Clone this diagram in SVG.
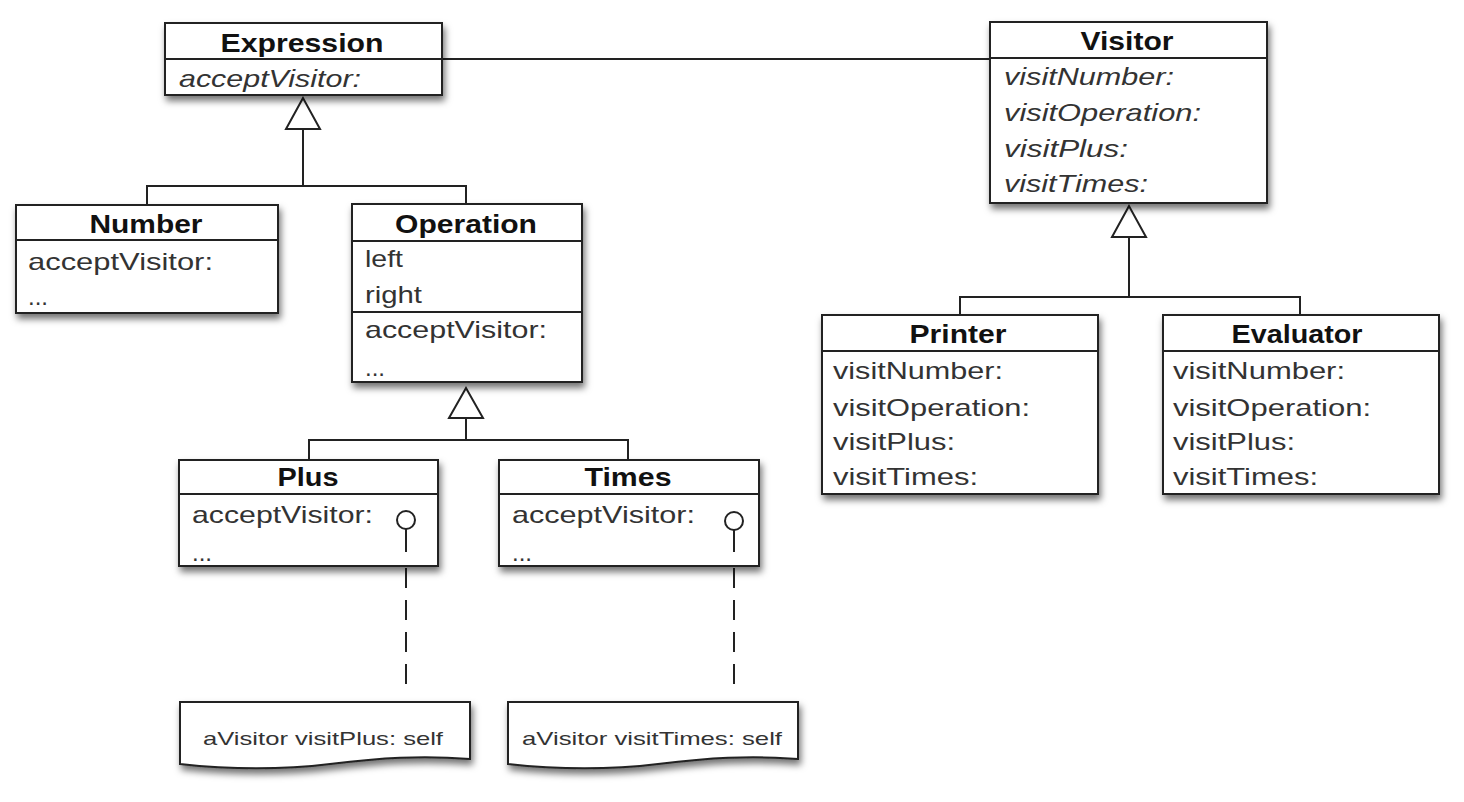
<svg xmlns="http://www.w3.org/2000/svg" width="1464" height="802" viewBox="0 0 1464 802">
<defs>
<filter id="sh" x="-10%" y="-10%" width="125%" height="135%">
<feDropShadow dx="2" dy="5" stdDeviation="3.5" flood-color="#000" flood-opacity="0.55"/>
</filter>
<style>
.box{fill:#fff;stroke:#222;stroke-width:2;filter:url(#sh)}
.sep{stroke:#222;stroke-width:2}
.ln{fill:none;stroke:#222;stroke-width:2}
.tri{fill:#fff;stroke:#222;stroke-width:2}
.dash{fill:none;stroke:#222;stroke-width:2;stroke-dasharray:20 12}
.t{font-family:"Liberation Sans",Arial,sans-serif;font-size:24px;fill:#333}
.i{font-style:italic}
.b{font-family:"Liberation Sans",Arial,sans-serif;font-size:25px;font-weight:bold;fill:#111;text-anchor:middle}
.n{font-family:"Liberation Sans",Arial,sans-serif;font-size:19px;fill:#333}
</style>
</defs>
<g id="connectors">
<line class="ln" x1="442" y1="59" x2="990" y2="59"/>
<polygon class="tri" points="303,98 286,129 320,129"/>
<path class="ln" d="M303,129 V186 M147,205 V186 H466 V204"/>
<polygon class="tri" points="466,388 449,418 483,418"/>
<path class="ln" d="M466,418 V440 M309,460 V440 H628 V460"/>
<polygon class="tri" points="1129,206 1112,237 1146,237"/>
<path class="ln" d="M1129,237 V297 M960,315 V297 H1300 V315"/>
<path class="dash" d="M406,568 V690"/>
<path class="dash" d="M734,568 V690"/>
</g>
<g id="Expression">
<rect class="box" x="165" y="23" width="277" height="72"/>
<line class="sep" x1="165" y1="59" x2="442" y2="59"/>
<text class="b" x="302" y="52" textLength="163" lengthAdjust="spacingAndGlyphs">Expression</text>
<text class="t i" x="179" y="87" textLength="182" lengthAdjust="spacingAndGlyphs">acceptVisitor:</text>
</g>
<g id="Visitor">
<rect class="box" x="990" y="22" width="277" height="181"/>
<line class="sep" x1="990" y1="58" x2="1267" y2="58"/>
<text class="b" x="1127" y="50" textLength="93" lengthAdjust="spacingAndGlyphs">Visitor</text>
<text class="t i" x="1004" y="85" textLength="170" lengthAdjust="spacingAndGlyphs">visitNumber:</text>
<text class="t i" x="1004" y="121" textLength="197" lengthAdjust="spacingAndGlyphs">visitOperation:</text>
<text class="t i" x="1004" y="157" textLength="124" lengthAdjust="spacingAndGlyphs">visitPlus:</text>
<text class="t i" x="1004" y="192" textLength="144" lengthAdjust="spacingAndGlyphs">visitTimes:</text>
</g>
<g id="Number">
<rect class="box" x="16" y="205" width="262" height="108"/>
<line class="sep" x1="16" y1="240" x2="278" y2="240"/>
<text class="b" x="146" y="233" textLength="113" lengthAdjust="spacingAndGlyphs">Number</text>
<text class="t" x="28" y="270" textLength="185" lengthAdjust="spacingAndGlyphs">acceptVisitor:</text>
<text class="t" x="28" y="305">...</text>
</g>
<g id="Operation">
<rect class="box" x="352" y="204" width="230" height="178"/>
<line class="sep" x1="352" y1="241" x2="582" y2="241"/>
<line class="sep" x1="352" y1="312" x2="582" y2="312"/>
<text class="b" x="466" y="233" textLength="142" lengthAdjust="spacingAndGlyphs">Operation</text>
<text class="t" x="365" y="267" textLength="38" lengthAdjust="spacingAndGlyphs">left</text>
<text class="t" x="365" y="303" textLength="57" lengthAdjust="spacingAndGlyphs">right</text>
<text class="t" x="365" y="338" textLength="182" lengthAdjust="spacingAndGlyphs">acceptVisitor:</text>
<text class="t" x="365" y="376">...</text>
</g>
<g id="Plus">
<rect class="box" x="179" y="460" width="259" height="106"/>
<line class="sep" x1="179" y1="494" x2="438" y2="494"/>
<text class="b" x="308" y="486" textLength="61" lengthAdjust="spacingAndGlyphs">Plus</text>
<text class="t" x="192" y="523" textLength="181" lengthAdjust="spacingAndGlyphs">acceptVisitor:</text>
<text class="t" x="192" y="561">...</text>
<circle cx="406" cy="520" r="9" fill="#fff" stroke="#222" stroke-width="2"/>
<line class="sep" x1="406" y1="529" x2="406" y2="552"/>
</g>
<g id="Times">
<rect class="box" x="499" y="460" width="260" height="106"/>
<line class="sep" x1="499" y1="494" x2="759" y2="494"/>
<text class="b" x="628" y="486" textLength="87" lengthAdjust="spacingAndGlyphs">Times</text>
<text class="t" x="512" y="523" textLength="183" lengthAdjust="spacingAndGlyphs">acceptVisitor:</text>
<text class="t" x="512" y="561">...</text>
<circle cx="734" cy="521" r="9" fill="#fff" stroke="#222" stroke-width="2"/>
<line class="sep" x1="734" y1="530" x2="734" y2="552"/>
</g>
<g id="NotePlus">
<path class="box" d="M180,702 H470 V759 C420,755 380,758 330,764 C280,770 225,769 180,764 Z"/>
<text class="n" x="203" y="745" textLength="240" lengthAdjust="spacingAndGlyphs">aVisitor visitPlus: self</text>
</g>
<g id="NoteTimes">
<path class="box" d="M508,702 H798 V759 C748,755 708,758 658,764 C608,770 553,769 508,764 Z"/>
<text class="n" x="522" y="745" textLength="260" lengthAdjust="spacingAndGlyphs">aVisitor visitTimes: self</text>
</g>
<g id="Printer">
<rect class="box" x="822" y="315" width="276" height="179"/>
<line class="sep" x1="822" y1="351" x2="1098" y2="351"/>
<text class="b" x="958" y="343" textLength="97" lengthAdjust="spacingAndGlyphs">Printer</text>
<text class="t" x="833" y="379" textLength="170" lengthAdjust="spacingAndGlyphs">visitNumber:</text>
<text class="t" x="833" y="416" textLength="197" lengthAdjust="spacingAndGlyphs">visitOperation:</text>
<text class="t" x="833" y="450" textLength="122" lengthAdjust="spacingAndGlyphs">visitPlus:</text>
<text class="t" x="833" y="485" textLength="145" lengthAdjust="spacingAndGlyphs">visitTimes:</text>
</g>
<g id="Evaluator">
<rect class="box" x="1163" y="315" width="276" height="179"/>
<line class="sep" x1="1163" y1="351" x2="1439" y2="351"/>
<text class="b" x="1297" y="343" textLength="131" lengthAdjust="spacingAndGlyphs">Evaluator</text>
<text class="t" x="1173" y="379" textLength="172" lengthAdjust="spacingAndGlyphs">visitNumber:</text>
<text class="t" x="1173" y="416" textLength="198" lengthAdjust="spacingAndGlyphs">visitOperation:</text>
<text class="t" x="1173" y="450" textLength="122" lengthAdjust="spacingAndGlyphs">visitPlus:</text>
<text class="t" x="1173" y="485" textLength="145" lengthAdjust="spacingAndGlyphs">visitTimes:</text>
</g>
</svg>
